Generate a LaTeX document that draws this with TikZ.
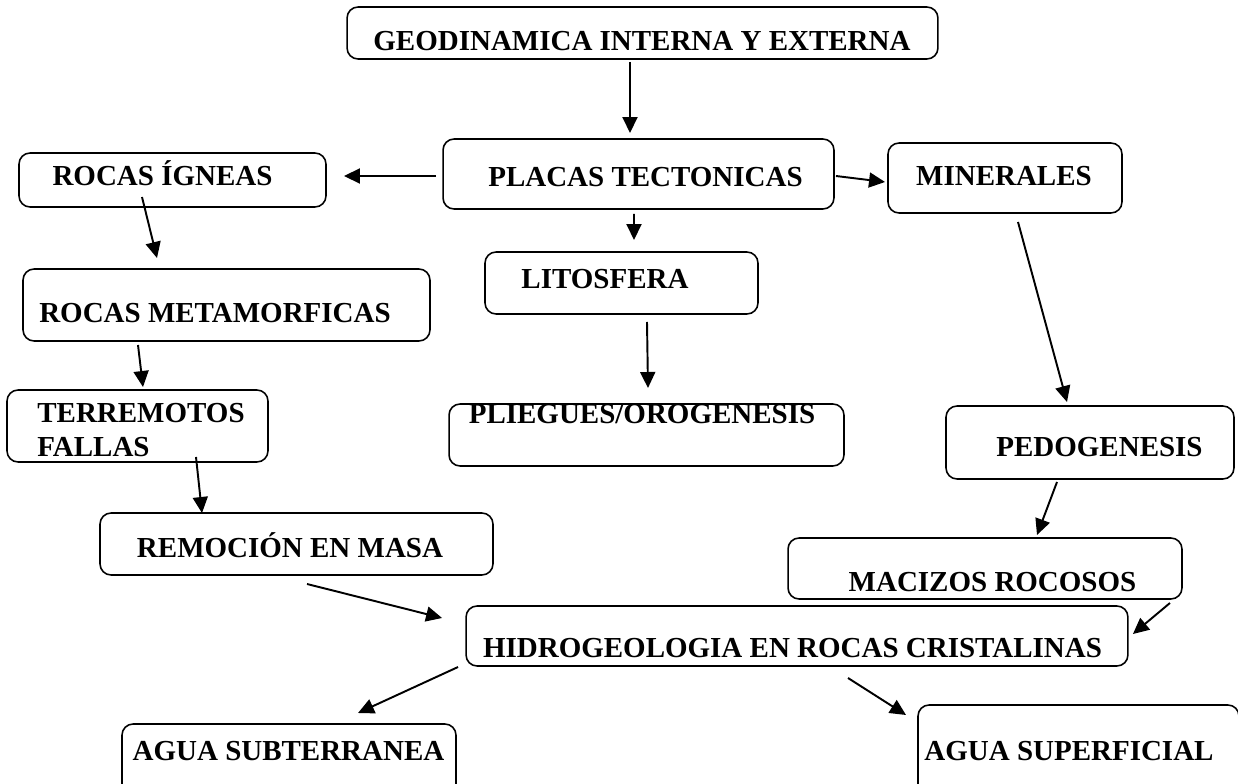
\documentclass[tikz,border=0pt]{standalone}
\usepackage{fontspec}
\setmainfont{Liberation Serif}
\usetikzlibrary{arrows.meta}

\begin{document}
\begin{tikzpicture}[x=0.02cm, y=-0.02cm, >={Triangle[length=3.2mm,width=3mm]},
  caja/.style={draw, rounded corners=0.22cm, line width=0.9pt, inner sep=0pt, outer sep=0pt},
  texto/.style={anchor=base, inner sep=0pt, font=\bfseries\fontsize{16.5}{19.3}\selectfont},
  flecha/.style={->, line width=1.1pt}]
\clip (0,0) rectangle (1238,784);
% Cajas
\node[caja, minimum width=11.82cm, minimum height=1.04cm] (geo) at (642.5,33) {};
\node[caja, minimum width=7.82cm, minimum height=1.40cm] (placas) at (638.5,174) {};
\node[caja, minimum width=6.14cm, minimum height=1.08cm] (ign) at (172.5,180) {};
\node[caja, minimum width=4.68cm, minimum height=1.40cm] (min) at (1005,178) {};
\node[caja, minimum width=5.46cm, minimum height=1.24cm] (lito) at (621.5,283) {};
\node[caja, minimum width=8.14cm, minimum height=1.44cm] (meta) at (226.5,305) {};
\node[caja, minimum width=5.22cm, minimum height=1.44cm] (terr) at (137.5,426) {};
\node[caja, minimum width=7.90cm, minimum height=1.24cm] (pli) at (646.5,435) {};
\node[caja, minimum width=5.76cm, minimum height=1.46cm] (pedo) at (1090,442.5) {};
\node[caja, minimum width=7.86cm, minimum height=1.24cm] (remo) at (296.5,544) {};
\node[caja, minimum width=7.88cm, minimum height=1.22cm] (maci) at (985,568.5) {};
\node[caja, minimum width=13.24cm, minimum height=1.20cm] (hidro) at (797,636) {};
\node[caja, minimum width=6.68cm, minimum height=1.72cm] (sub) at (289,767) {};
\node[caja, minimum width=6.42cm, minimum height=2.10cm] (sup) at (1078.5,757.5) {};
% Textos
\node[texto] (geo-t) at (642,51) {GEODINAMICA INTERNA Y EXTERNA};
\node[texto] (placas-t) at (645.5,187) {PLACAS TECTONICAS};
\node[texto] (ign-t) at (162.5,186) {ROCAS ÍGNEAS};
\node[texto] (min-t) at (1004,186) {MINERALES};
\node[texto] (lito-t) at (605,288) {LITOSFERA};
\node[texto] (meta-t) at (215,322) {ROCAS METAMORFICAS};
\node[texto, anchor=base west, align=left] (terr-t) at (37,456) {TERREMOTOS\\FALLAS};
\node[texto] (pli-t) at (642,423) {PLIEGUES/OROGENESIS};
\node[texto] (pedo-t) at (1099.5,456) {PEDOGENESIS};
\node[texto] (remo-t) at (290,557) {REMOCIÓN EN MASA};
\node[texto] (maci-t) at (992.5,591) {MACIZOS ROCOSOS};
\node[texto] (hidro-t) at (792.5,657) {HIDROGEOLOGIA EN ROCAS CRISTALINAS};
\node[texto] (sub-t) at (288.5,760) {AGUA SUBTERRANEA};
\node[texto] (sup-t) at (1069,760) {AGUA SUPERFICIAL};
% Flechas
\draw[flecha] ([shift={(-12.5,3)}]geo.south) -- ([shift={(-8.5,-6)}]placas.north);
\draw[flecha] ([shift={(-7,2)}]placas.west) -- ([shift={(18,-4)}]ign.east);
\draw[flecha] ([shift={(2,2)}]placas.east) -- ([shift={(-3,4)}]min.west);
\draw[flecha] ([shift={(-4.5,5)}]placas.south) -- ([shift={(12.5,-12)}]lito.north);
\draw[flecha] ([shift={(-30.5,-10)}]ign.south) -- ([shift={(-69.5,-11)}]meta.north);
\draw[flecha] ([shift={(13,9)}]min.south) -- ([shift={(-23,-4)}]pedo.north);
\draw[flecha] ([shift={(25.5,8)}]lito.south) -- ([shift={(1.5,-16)}]pli.north);
\draw[flecha] ([shift={(-88.5,4)}]meta.south) -- ([shift={(5.5,-3)}]terr.north);
\draw[flecha] ([shift={(58.5,-5)}]terr.south) -- ([shift={(-94.5,0)}]remo.north);
\draw[flecha] ([shift={(-33,3)}]pedo.south) -- ([shift={(52,-3)}]maci.north);
\draw[flecha] ([shift={(10.5,9)}]remo.south) -- ([shift={(-24,-18)}]hidro.west);
\draw[flecha] ([shift={(-12,4)}]maci.south east) -- ([shift={(5,-2)}]hidro.east);
\draw[flecha] ([shift={(-8,1)}]hidro.south west) -- ([shift={(69,-11)}]sub.north);
\draw[flecha] ([shift={(51,12)}]hidro.south) -- ([shift={(-12,10)}]sup.north west);
\end{tikzpicture}
\end{document}
